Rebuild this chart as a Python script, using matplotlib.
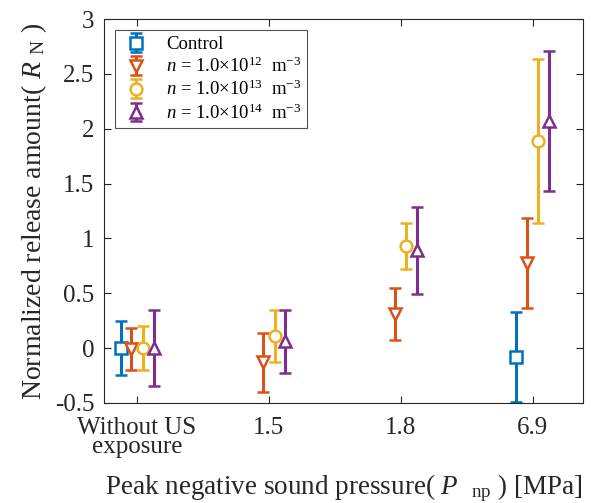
import numpy as np
import matplotlib.pyplot as plt

plt.rcParams['font.family'] = 'Liberation Serif'
plt.rcParams['mathtext.fontset'] = 'custom'
plt.rcParams['mathtext.rm'] = 'Liberation Serif'
plt.rcParams['mathtext.it'] = 'Liberation Serif:italic'

# categories on the x axis
categories = ['Without US\nexposure', '1.5', '1.8', '6.9']

# mean and error (half-length) per series, NaN where no data
control_mean = [0.0, np.nan, np.nan, -0.08]
control_err = [0.25, np.nan, np.nan, 0.41]
n12_mean = [-0.01, -0.13, 0.31, 0.78]
n12_err = [0.19, 0.27, 0.24, 0.41]
n13_mean = [0.0, 0.11, 0.93, 1.89]
n13_err = [0.20, 0.24, 0.21, 0.75]
n14_mean = [0.0, 0.06, 0.89, 2.07]
n14_err = [0.35, 0.29, 0.40, 0.64]

labels = ['Control',
          r'$n$ = 1.0×10$^{12}$  m$^{-3}$',
          r'$n$ = 1.0×10$^{13}$  m$^{-3}$',
          r'$n$ = 1.0×10$^{14}$  m$^{-3}$']
colors = ['#0072BD', '#D95319', '#EDB120', '#7E2F8E']
markers = ['s', 'v', 'o', '^']
offsets = [-0.125, -0.042, 0.042, 0.125]
means = [control_mean, n12_mean, n13_mean, n14_mean]
errs = [control_err, n12_err, n13_err, n14_err]

fig = plt.figure(figsize=(5.91, 5.03), dpi=100)
ax = fig.add_axes([0.176, 0.199, 0.8105, 0.763])

x = np.arange(1, len(categories) + 1)
for m, e, lab, c, mk, off in zip(means, errs, labels, colors, markers, offsets):
    ax.errorbar(x + off, m, yerr=e, fmt=mk, color=c, mfc='white', mec=c,
                mew=1.8, ms=8.5, elinewidth=2.2, capsize=4.5, capthick=2.2,
                label=lab, clip_on=False)

ax.set_xlim(0.75, 4.38)
ax.set_ylim(-0.5, 3)
ax.set_xticks(x)
ax.set_xticklabels(categories, linespacing=0.85)
ax.set_yticks(np.arange(-0.5, 3.01, 0.5))
ax.set_yticklabels(['-0.5', '0', '0.5', '1', '1.5', '2', '2.5', '3'])
ax.tick_params(direction='in', top=True, right=True, labelsize=18,
               colors='#262626', length=5)
ax.tick_params(axis='x', pad=10)
ax.tick_params(axis='y', pad=7)
for s in ax.spines.values():
    s.set_color('#262626')
    s.set_linewidth(0.8)

ax.set_ylabel(r'Normalized release amount( $R$ $_{\rm N}$ )', fontsize=20,
              color='#262626', labelpad=4)
ax.set_xlabel(r'Peak negative sound pressure( $P$  $_{\rm np}$ ) [MPa]',
              fontsize=19.5, color='#262626')
ax.xaxis.set_label_coords(0.5, -0.18)

leg = ax.legend(loc='upper left', fontsize=13.5, frameon=True, fancybox=False,
                edgecolor='#262626', borderaxespad=0.6, handlelength=1.6,
                labelspacing=0.2, borderpad=0.3)
leg.get_frame().set_linewidth(0.8)

fig.savefig('out.png', dpi=100)
